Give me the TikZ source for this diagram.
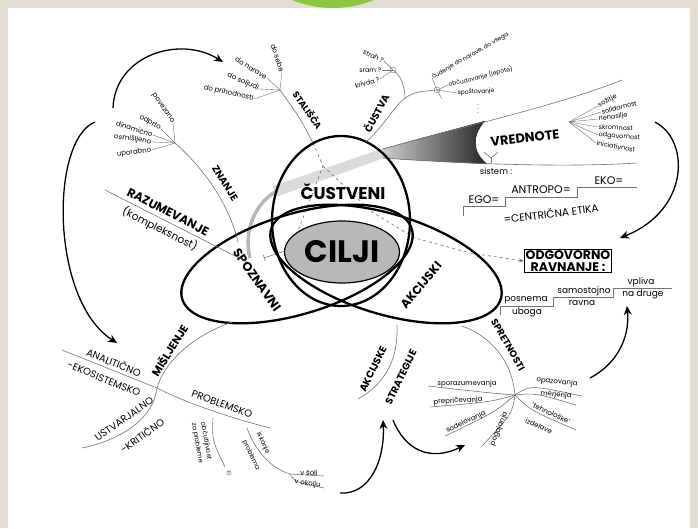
\documentclass[tikz,border=0pt]{standalone}
\usepackage{fontspec}
\setsansfont{Poppins}
\usetikzlibrary{arrows.meta}
\usetikzlibrary{positioning}
\usetikzlibrary{shapes.geometric}
\definecolor{mgray}{rgb}{0.45, 0.45, 0.45}
\definecolor{mbeige}{RGB}{228, 222, 210}
\definecolor{mgreen}{RGB}{141, 198, 63}
\newcommand{\fsz}[1]{\fontsize{#1}{#1}\selectfont}
\tikzset{ring/.style = {line width=2.3pt, line join=round},
         branch/.style = {mgray, line width=0.6pt},
         twig/.style = {mgray, line width=0.4pt},
         lbl/.style = {font=\sffamily\bfseries\fsz{9}, inner sep=0.5pt},
         leaf/.style = {font=\sffamily\fsz{7}, inner sep=0.5pt},
         caps/.style = {font=\sffamily\fsz{10}, inner sep=0.5pt},
         flow/.style = {-{Stealth[length=9pt, width=8pt]}, line width=1.3pt},
         dsh/.style = {mgray, dashed, line width=0.6pt}}

\begin{document}
\begin{tikzpicture}[x=1pt, y=-1pt]
    \useasboundingbox (0, 0) rectangle (698, 528);
    \clip (0, 0) rectangle (698, 528);
    \fill [mbeige] (0, 0) rectangle (698, 528);
    \fill [white] (8, 8) rectangle (690, 528);
    \fill [mgreen] (333, -101) circle (109);

    % vrednote funnel
    \fill [gray!28] (273, 186) -- (384, 148) -- (384, 158) -- (276, 197) -- cycle;
    \draw [double=gray!55, double distance=2.5pt, gray!70, line width=0.4pt] (277, 191) .. controls (256, 202) and (243, 230) .. (250, 258);
    \fill [left color=gray!40, right color=black!85] (383, 149) .. controls (417, 139) and (452, 130) .. (485, 121) .. controls (472, 135) and (472, 152) .. (487, 164) .. controls (450, 162) and (415, 160) .. (383, 158) -- cycle;
    \draw [branch] (383, 149) .. controls (450, 130) and (560, 105) .. (622, 80);
    \draw [branch] (383, 158) .. controls (450, 163) and (560, 168) .. (637, 163);
    \node [lbl, rotate=7, font=\sffamily\bfseries\fsz{13}] (vred) at (525, 138) {VREDNOTE};

    \coordinate (vJ) at (569, 122);
    \node [leaf, rotate=28, anchor=west, font=\sffamily\fsz{6.5}] (sozit) at (598, 106) {sožitje};
    \node [leaf, rotate=14, anchor=west, font=\sffamily\fsz{6.5}] (solid) at (601, 112) {solidarnost};
    \node [leaf, rotate=7, anchor=west, font=\sffamily\fsz{6.5}] (nenas) at (598, 119) {nenasilje};
    \node [leaf, rotate=-2, anchor=west, font=\sffamily\fsz{6.5}] (skrom) at (598, 127) {skromnost};
    \node [leaf, rotate=-5, anchor=west, font=\sffamily\fsz{6.5}] (odgov) at (598, 135) {odgovornost};
    \node [leaf, rotate=-10, anchor=west, font=\sffamily\fsz{6.5}] (inic) at (596, 143) {iniciativnost};
    \foreach \v in {sozit, solid, nenas, skrom, odgov, inic}
        \draw [twig] (vJ) -- (\v.west);

    \draw [branch] (484, 152) -- (491, 158) -- (498, 152);
    \draw [branch] (491, 158) -- (491, 163);
    \node [leaf, font=\sffamily\fsz{8.5}] (sist) at (496, 171) {sistem :};

    \node [caps, font=\sffamily\fsz{11}] (ego) at (484, 200) {EGO=};
    \node [caps, font=\sffamily\fsz{11}] (antro) at (541, 190) {ANTROPO=};
    \node [caps, font=\sffamily\fsz{11}] (eko) at (609, 181) {EKO=};
    \node [caps, rotate=7, font=\sffamily\fsz{10.5}] (centr) at (551, 213) {=CENTRIČNA ETIKA};
    \draw [mgray, line width=0.5pt] (463, 216) -- (463, 206) -- (505, 206) -- (505, 197) -- (577, 197) -- (577, 187) -- (637, 187);

    \node [draw, line width=0.9pt, align=center, inner sep=1.5pt,
           font=\sffamily\bfseries\fontsize{12.5}{11.5}\selectfont] (odg) at (568, 261) {ODGOVORNO\\RAVNANJE :};

    % dashed paths
    \coordinate (dTop) at (313, 143);
    \coordinate (dJ) at (323, 166);
    \coordinate (dL) at (291, 249);
    \coordinate (dT) at (264, 258);
    \coordinate (dA) at (372, 212);
    \coordinate (dB) at (415, 238);
    \coordinate (dC) at (470, 253);
    \draw [dsh] (dTop) -- (dJ) -- (dL);
    \draw [branch, -{Bar[width=6pt]}] (dL) -- (dT);
    \draw [dsh] (dJ) -- (dA) -- (dB) -- (dC);
    \draw [dsh, -{Stealth[length=5pt, width=4pt]}] (dC) -- (odg.west);

    % three rings
    \draw [ring] (341, 221) ellipse [x radius=69, y radius=85];
    \draw [ring] plot [domain=0:360, samples=121, variable=\t]
        ({297 + 120*cos(\t)*cos(17) + 50*sin(\t)*sin(17)}, {264 - 120*cos(\t)*sin(17) + 50*sin(\t)*cos(17)}) -- cycle;
    \draw [ring] plot [domain=0:360, samples=121, variable=\t]
        ({386 + 120*cos(\t)*cos(17) - 50*sin(\t)*sin(17)}, {264 + 120*cos(\t)*sin(17) + 50*sin(\t)*cos(17)}) -- cycle;
    \node [ellipse, draw, line width=1.2pt, fill=black!28, minimum width=94pt, minimum height=62pt,
           font=\sffamily\bfseries\fsz{31}] (cilji) at (342, 252) {CILJI};
    \node [lbl, font=\sffamily\bfseries\fsz{17}] (custv) at (343, 192) {ČUSTVENI};
    \node [lbl, rotate=-55, font=\sffamily\bfseries\fsz{12.5}] (spozn) at (257, 280) {SPOZNAVNI};
    \node [lbl, rotate=50, font=\sffamily\bfseries\fsz{12}] (akcij) at (421, 285) {AKCIJSKI};

    % stalisca
    \coordinate (sJ) at (280, 90);
    \draw [branch] (dTop) .. controls (300, 118) .. (sJ);
    \node [lbl, rotate=-55] (stal) at (308, 110) {STALIŠČA};
    \node [leaf, rotate=-72, anchor=east] (sebe) at (282, 72) {do sebe};
    \node [leaf, rotate=-32, anchor=east] (narav) at (267, 78) {do narave};
    \node [leaf, rotate=-24, anchor=east] (ljudi) at (259, 89) {do soljudi};
    \node [leaf, rotate=-13, anchor=east] (prih) at (254, 99) {do prihodnosti};
    \foreach \v in {sebe, narav, ljudi, prih}
        \draw [twig] (sJ) -- (\v.east);

    % custva
    \coordinate (cR) at (366, 142);
    \coordinate (cJ) at (405, 98);
    \coordinate (cL) at (393, 70);
    \coordinate (cK) at (437, 90);
    \draw [branch] (cR) .. controls (385, 125) and (395, 105) .. (cJ);
    \draw [branch] (cJ) .. controls (405, 85) and (400, 75) .. (cL);
    \draw [branch] (cJ) .. controls (415, 92) .. (cK);
    \draw [twig] (cL) circle (3);
    \draw [twig] (cK) circle (3);
    \draw [twig] (cK) -- (442, 99);
    \node [lbl, rotate=62, font=\sffamily\bfseries\fsz{10}] (custva) at (376, 113) {ČUSTVA};
    \node [leaf, rotate=-25, anchor=east, font=\sffamily\fsz{6.5}] (strah) at (384, 61) {strah ?};
    \node [leaf, anchor=east, font=\sffamily\fsz{6.5}] (sram) at (382, 70) {sram ?};
    \node [leaf, rotate=15, anchor=east, font=\sffamily\fsz{6.5}] (krivd) at (380, 79) {krivda ?};
    \foreach \v in {strah, sram, krivd}
        \draw [twig] (cL) -- (\v.east);
    \node [leaf, rotate=30, anchor=west, font=\sffamily\fsz{6}] (cuden) at (432, 78) {čudenje do narave, do vsega};
    \node [leaf, rotate=14, anchor=west, font=\sffamily\fsz{6}] (obcud) at (448, 85) {občudovanje (lepote)};
    \node [leaf, rotate=3, anchor=west, font=\sffamily\fsz{6}] (spost) at (457, 93) {spoštovanje};
    \foreach \v in {cuden, obcud, spost}
        \draw [twig] (cK) -- (\v.west);
    \node [font=\fsz{8}] (dots) at (478, 106) {$\vdots$};

    % znanje
    \coordinate (zR) at (238, 242);
    \coordinate (zJ) at (175, 143);
    \draw [branch] (zR) .. controls (228, 200) and (200, 165) .. (zJ);
    \node [lbl, rotate=-58, font=\sffamily\bfseries\fsz{10}] (znanje) at (225, 183) {ZNANJE};
    \node [leaf, rotate=-55, anchor=east] (povez) at (173, 123) {povezano};
    \node [leaf, rotate=-30, anchor=east] (odpr) at (161, 129) {odprto};
    \node [leaf, rotate=-18, anchor=east] (dinam) at (153, 135) {dinamično};
    \node [leaf, rotate=-8, anchor=east] (osmis) at (152, 142) {osmišljeno};
    \node [leaf, rotate=8, anchor=east] (upor) at (152, 150) {uporabno};
    \foreach \v in {povez, odpr, dinam, osmis, upor}
        \draw [twig] (zJ) -- (\v.east);

    % razumevanje
    \coordinate (rL) at (105, 190);
    \coordinate (rR) at (247, 262);
    \draw [branch] (rL) -- (rR);
    \node [lbl, rotate=-27, font=\sffamily\bfseries\fsz{12}] (razum) at (168, 212) {RAZUMEVANJE};
    \node [lbl, rotate=-27, font=\sffamily\fsz{10.5}] (kompl) at (160, 229) {(kompleksnost)};

    % misljenje
    \coordinate (mR) at (232, 322);
    \coordinate (mJ) at (157, 388);
    \coordinate (mA) at (62, 350);
    \coordinate (mU) at (82, 448);
    \coordinate (mP) at (270, 428);
    \draw [branch] (mR) .. controls (195, 335) and (165, 360) .. (mJ);
    \node [lbl, rotate=58, font=\sffamily\bfseries\fsz{11}] (misl) at (169, 350) {MIŠLJENJE};
    \draw [branch] (mJ) -- (mA);
    \node [caps, rotate=-22] (anal) at (114, 362) {ANALITIČNO};
    \node [caps, rotate=-22] (ekos) at (104, 379) {-EKOSISTEMSKO};
    \draw [branch] (mJ) .. controls (153, 420) and (120, 440) .. (mU);
    \node [caps, rotate=35] (ustv) at (124, 419) {USTVARJALNO};
    \node [caps, rotate=35] (krit) at (142, 435) {-KRITIČNO};
    \draw [branch] (mJ) .. controls (180, 400) and (220, 415) .. (mP);
    \node [caps, rotate=-20] (probl) at (222, 404) {PROBLEMSKO};

    \coordinate (p1) at (213, 418);
    \draw [branch] (p1) .. controls (212, 440) .. (225, 467);
    \node [circle, draw, mgray, text=black, inner sep=0.3pt, font=\sffamily\fsz{4}] (qm) at (229, 473) {?};
    \node [leaf, rotate=-80, font=\sffamily\fsz{6.5}] (obcut) at (206, 441) {občutljivost};
    \node [leaf, rotate=-80, font=\sffamily\fsz{6.5}] (zapro) at (197, 443) {za probleme};

    \coordinate (p2) at (247, 428);
    \coordinate (p3) at (290, 474);
    \draw [branch] (p2) .. controls (255, 450) and (270, 468) .. (p3);
    \draw [branch] (p3) -- (324, 476);
    \draw [branch] (p3) .. controls (295, 482) .. (324, 488);
    \node [leaf, rotate=-65, font=\sffamily\fsz{6.5}] (iskan) at (263, 443) {iskanje};
    \node [leaf, rotate=-65, font=\sffamily\fsz{6.5}] (probm) at (251, 455) {problema};
    \node [leaf, anchor=south] (vsoli) at (309, 476) {v šoli};
    \node [leaf, anchor=south, rotate=-8] (vokol) at (307, 488) {v okolju};

    % akcijske strategije
    \coordinate (aR) at (397, 325);
    \coordinate (aE) at (358, 399);
    \draw [branch] (aR) .. controls (398, 350) and (392, 380) .. (aE);
    \node [lbl, rotate=64, font=\sffamily\bfseries\fsz{10}] (akcs) at (373, 369) {AKCIJSKE};
    \node [lbl, rotate=64, font=\sffamily\bfseries\fsz{10}] (strat) at (401, 377) {STRATEGIJE};

    % spretnosti
    \coordinate (spR) at (462, 326);
    \coordinate (spJ) at (515, 395);
    \draw [branch] (spR) .. controls (490, 336) and (512, 360) .. (spJ);
    \node [lbl, rotate=-60, font=\sffamily\bfseries\fsz{9.5}] (spret) at (508, 345) {SPRETNOSTI};
    \draw [branch] (spJ) .. controls (490, 393) .. (428, 386);
    \node [leaf] (spora) at (467, 384) {sporazumevanja};
    \draw [branch] (spJ) .. controls (490, 402) .. (430, 407);
    \node [leaf, rotate=3] (prepr) at (458, 401) {prepričevanja};
    \draw [branch] (spJ) .. controls (495, 412) .. (445, 436);
    \node [leaf, rotate=25] (sodel) at (466, 422) {sodelovanja};
    \draw [branch] (spJ) .. controls (512, 414) .. (482, 446);
    \node [leaf, rotate=68] (pogaj) at (499, 429) {pogajanja};
    \draw [branch] (spJ) .. controls (530, 385) .. (582, 396);
    \draw [branch] (spJ) .. controls (535, 393) .. (576, 405);
    \node [leaf, rotate=-6] (opaz) at (557, 382) {opazovanja};
    \node [leaf, rotate=-6] (merj) at (556, 395) {merjenja};
    \draw [branch] (spJ) .. controls (530, 410) .. (576, 430);
    \node [leaf, rotate=-25] (tehno) at (551, 413) {'tehnološke'};
    \node [leaf, rotate=-25] (izdel) at (539, 426) {izdelave};

    % staircase
    \draw [mgray, line width=0.5pt] (500, 315) -- (500, 306) -- (553, 306) -- (553, 297) -- (613, 297) -- (613, 288) -- (672, 288);
    \node [leaf, font=\sffamily\fsz{9}] (posn) at (526, 300) {posnema};
    \node [leaf, font=\sffamily\fsz{9}] (ubog) at (527, 312) {uboga};
    \node [leaf, font=\sffamily\fsz{9}] (samos) at (584, 291) {samostojno};
    \node [leaf, font=\sffamily\fsz{9}] (ravna) at (582, 303) {ravna};
    \node [leaf, font=\sffamily\fsz{9}] (vpliv) at (641, 282) {vpliva};
    \node [leaf, font=\sffamily\fsz{9}] (nadru) at (643, 294) {na druge};

    % big arrows
    \draw [flow] (113, 108) .. controls (115, 55) and (180, 35) .. (223, 62);
    \draw [flow] (95, 122) .. controls (50, 140) and (50, 300) .. (117, 343);
    \draw [flow] (655, 122) .. controls (690, 140) and (690, 210) .. (620, 238);
    \draw [flow] (590, 378) .. controls (615, 365) and (630, 340) .. (627, 306);
    \draw [flow] (340, 493) .. controls (370, 495) and (385, 460) .. (383, 420);
    \draw [flow] (393, 420) .. controls (405, 450) and (430, 462) .. (465, 445);
\end{tikzpicture}
\end{document}
